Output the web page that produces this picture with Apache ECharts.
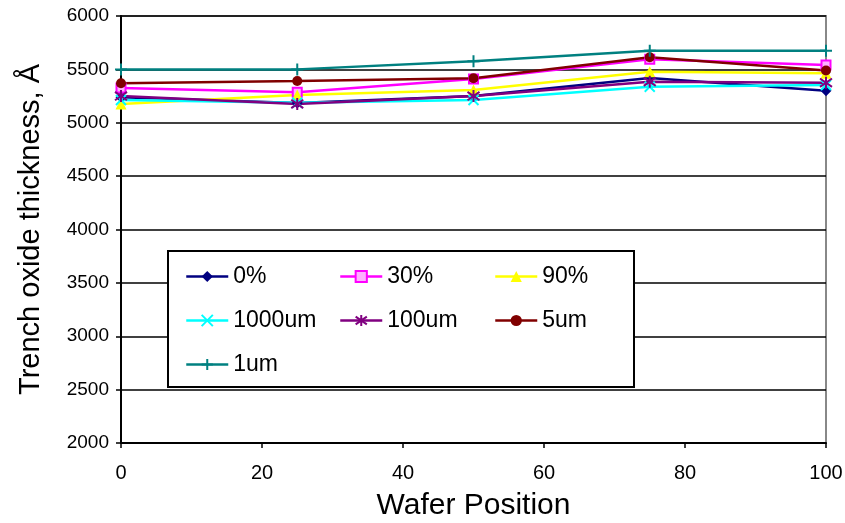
<!DOCTYPE html>
<html>
<head>
<meta charset="utf-8">
<script src="https://cdn.jsdelivr.net/npm/echarts@6/dist/echarts.min.js"></script>
<style>
  html, body { margin: 0; padding: 0; background: #fff; }
  #chart { width: 845px; height: 523px; }
</style>
</head>
<body>
<div id="chart"></div>
<script>
// wafer positions (x) and thickness per series (Angstrom)
const positions = [0, 25, 50, 75, 100]
const names = ['0%', '30%', '90%', '1000um', '100um', '5um', '1um']
const t0pct = [5240, 5185, 5250, 5420, 5300]
const t30pct = [5325, 5285, 5410, 5595, 5540]
const t90pct = [5176, 5260, 5307, 5478, 5463]
const t1000um = [5213, 5188, 5213, 5338, 5354]
const t100um = [5250, 5176, 5250, 5385, 5375]
const t5um = [5370, 5391, 5417, 5613, 5490]
const t1um = [5500, 5500, 5575, 5675, 5675]
const yTicks = [2000, 2500, 3000, 3500, 4000, 4500, 5000, 5500, 6000]

const FONT = 'Liberation Sans, Arial, sans-serif'

const styles = {
  '0%': { color: '#000080', symbol: 'diamond', size: 11 },
  '30%': { color: '#ff00ff', symbol: 'rect', size: 9, fill: '#ffb0ff' },
  '90%': { color: '#ffff00', symbol: 'triangle', size: 11 },
  '1000um': { color: '#00ffff', symbol: 'path://M0,0L10,10M10,0L0,10', size: 10 },
  '100um': { color: '#800080', symbol: 'path://M5,0L5,10M0,1.5L10,8.5M10,1.5L0,8.5', size: 12 },
  '5um': { color: '#800000', symbol: 'circle', size: 10 },
  '1um': { color: '#008080', symbol: 'path://M5,0L5,10M0,5L10,5', size: 12 }
}
const values = {
  '0%': t0pct, '30%': t30pct, '90%': t90pct, '1000um': t1000um,
  '100um': t100um, '5um': t5um, '1um': t1um
}

const series = names.map(n => {
  const s = styles[n]
  const stroke = s.symbol.startsWith('path://')
  return {
    name: n,
    type: 'line',
    data: positions.map((x, i) => [x, values[n][i]]),
    symbol: s.symbol,
    symbolSize: s.size,
    showAllSymbol: true,
    lineStyle: { color: s.color, width: 2.5 },
    itemStyle: {
      color: s.fill || s.color,
      borderColor: s.color,
      borderWidth: stroke || s.fill ? 2 : 0
    },
    emphasis: { disabled: true },
    z: 3
  }
})

const legendCommon = {
  orient: 'vertical',
  itemWidth: 42,
  itemHeight: 14,
  itemGap: 21,
  itemTextGap: 6,
  lineStyle: { width: 2.5 },
  textStyle: { fontFamily: FONT, fontSize: 23, color: '#000' },
  selectedMode: false,
  padding: 0,
  z: 20
}

const chart = echarts.init(document.getElementById('chart'))
chart.setOption({
  animation: false,
  backgroundColor: '#fff',
  grid: {
    left: 121, right: 19, top: 16, bottom: 80,
    outerBoundsMode: 'none',
    show: true, borderColor: '#888', borderWidth: 2
  },
  xAxis: {
    type: 'value',
    min: 0, max: 100, interval: 20,
    name: 'Wafer Position',
    nameLocation: 'middle',
    nameGap: 48,
    nameTextStyle: { fontFamily: FONT, fontSize: 30, color: '#000' },
    axisLine: { show: true, onZero: false, lineStyle: { color: '#000', width: 2 } },
    axisTick: { show: true, length: 5, lineStyle: { color: '#000', width: 1.5 } },
    axisLabel: { fontFamily: FONT, fontSize: 20, color: '#000', margin: 20 },
    splitLine: { show: false }
  },
  yAxis: {
    type: 'value',
    min: 2000, max: 6000, interval: 500,
    name: 'Trench oxide thickness, \u00c5',
    nameLocation: 'middle',
    nameGap: 76,
    nameRotate: 90,
    nameTextStyle: { fontFamily: FONT, fontSize: 29, color: '#000' },
    axisLine: { show: true, lineStyle: { color: '#000', width: 2 } },
    axisTick: { show: true, length: 5, lineStyle: { color: '#000', width: 1.5 } },
    axisLabel: {
      fontFamily: FONT, fontSize: 19, color: '#000', margin: 12,
      formatter: v => yTicks.includes(v) ? String(v) : ''
    },
    splitLine: { show: true, lineStyle: { color: '#000', width: 1.5 } }
  },
  legend: [
    Object.assign({ left: 185, top: 265, data: ['0%', '1000um', '1um'] }, legendCommon),
    Object.assign({ left: 339, top: 265, data: ['30%', '100um'] }, legendCommon),
    Object.assign({ left: 494, top: 265, data: ['90%', '5um'] }, legendCommon)
  ],
  graphic: [{
    type: 'rect',
    shape: { x: 168, y: 251, width: 466, height: 136 },
    style: { fill: '#fff', stroke: '#000', lineWidth: 2 },
    z: 10
  }],
  series: series
})
</script>
</body>
</html>
